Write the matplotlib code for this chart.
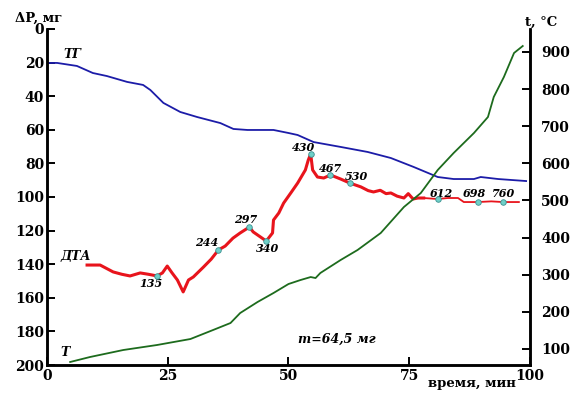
import matplotlib
matplotlib.use("Agg")
import matplotlib.pyplot as plt
import numpy as np

# --- data ---
# TG curve (mass loss, mg) vs time (min)
tg_time = [0.0, 2.1, 6.2, 9.5, 12.4, 16.6, 19.9, 21.4, 24.1, 27.6, 31.1, 35.9, 38.6,
           41.5, 46.9, 50.0, 51.9, 55.2, 60.8, 66.4, 71.2, 75.9, 80.9, 84.2, 88.4,
           89.8, 93.4, 99.2]
tg_mass = [20.2, 20.2, 22.0, 26.2, 28.0, 31.5, 33.3, 36.3, 44.0, 49.4, 52.4, 56.0, 59.5,
           60.1, 60.1, 61.9, 63.1, 67.3, 70.2, 73.2, 76.8, 82.1, 88.1, 89.3, 89.3,
           88.1, 89.3, 90.5]

# DTA curve (drawn on the mass scale)
dta_time = [8.3, 11.0, 13.7, 15.5, 17.2, 19.3, 21.0, 22.8, 23.9, 24.9, 25.9, 27.0, 28.2,
            29.3, 30.3, 32.4, 34.0, 35.5, 36.9, 38.5, 40.0, 41.9, 42.7, 44.2, 45.4,
            46.7, 46.9, 48.0, 49.0, 50.5, 51.9, 53.5, 54.1, 54.6, 55.0, 56.0, 57.3,
            58.7, 60.8, 62.7, 65.0, 66.5, 67.6, 69.0, 70.2, 71.2, 72.5, 73.9, 74.8,
            75.8, 76.8, 78.0]
dta_val = [140.5, 140.5, 144.6, 146.0, 147.0, 145.2, 146.0, 147.0, 145.2, 141.1, 145.2,
           149.4, 156.5, 149.4, 147.6, 141.7, 137.0, 131.5, 129.2, 124.5, 121.4, 117.9,
           120.8, 123.8, 126.2, 121.4, 113.7, 109.5, 103.6, 97.5, 91.7, 83.9, 78.0,
           74.4, 83.9, 88.1, 88.7, 86.9, 89.3, 91.7, 94.0, 96.2, 97.0, 96.0, 98.0,
           97.6, 99.5, 100.6, 98.0, 101.2, 100.6, 100.6]
dta_time_tail = [78.0, 80.9, 83.0, 85.1, 86.3, 89.2, 92.0, 94.4, 97.7]
dta_val_tail = [100.6, 101.2, 100.6, 100.6, 103.0, 103.0, 102.6, 103.0, 103.0]

# marked DTA points (temperature labels, degC)
mark_time = [22.8, 35.5, 41.9, 45.4, 54.6, 58.7, 62.7, 80.9, 89.2, 94.4]
mark_val = [147.0, 131.5, 117.9, 126.2, 74.4, 86.9, 91.7, 101.2, 103.0, 103.0]
mark_text = ["135", "244", "297", "340", "430", "467", "530", "612", "698", "760"]
mark_offset = [(-6, -8), (-12, 7), (-4, 8), (1, -7), (-7, 6), (0, 6), (7, 7),
               (4, 6), (-3, 9), (1, 9)]

# T curve (temperature, degC) vs time
t_time = [4.8, 8.9, 15.8, 22.8, 29.7, 34.4, 38.0, 40.0, 43.6, 46.9, 50.0, 52.5, 54.6,
          55.6, 56.6, 60.8, 64.3, 69.1, 73.9, 77.4, 80.9, 84.2, 88.4, 91.3, 92.5,
          94.6, 96.7, 98.5]
t_temp = [64.8, 78.2, 97.1, 110.6, 126.7, 151.0, 169.8, 196.7, 226.4, 250.6, 274.8,
          285.6, 293.6, 290.9, 304.5, 339.5, 366.4, 412.2, 482.2, 519.9, 581.9, 627.7,
          681.5, 724.6, 778.5, 832.4, 897.0, 915.8]

left_ticks = [0, 20, 40, 60, 80, 100, 120, 140, 160, 180, 200]
right_ticks = [100, 200, 300, 400, 500, 600, 700, 800, 900]
x_ticks = [0, 25, 50, 75, 100]

# --- figure ---
plt.rcParams["font.family"] = "DejaVu Serif"
fig = plt.figure(figsize=(5.75, 3.94), dpi=100)
ax = fig.add_axes([0.0817, 0.0736, 0.840, 0.8528])
ax2 = ax.twinx()

ax.plot(tg_time, tg_mass, color="#1c1ca8", lw=1.3)
ax.plot(dta_time, dta_val, color="#e8141c", lw=2.2)
ax.plot(dta_time_tail, dta_val_tail, color="#e8141c", lw=1.3)
ax.scatter(mark_time, mark_val, s=16, color="#6fd0c8", edgecolors="#3a9090",
           linewidths=0.6, zorder=5)
for tx, ty, s, off in zip(mark_time, mark_val, mark_text, mark_offset):
    ax.annotate(s, (tx, ty), xytext=off, textcoords="offset pixels",
                ha="center", va="center", fontsize=8, fontstyle="italic",
                fontweight="bold")

ax2.plot(t_time, t_temp, color="#1d6b1d", lw=1.3)

ax.set_xlim(0, 100)
ax.set_ylim(200, 0)
ax2.set_ylim(56.7, 961.6)
ax.set_xticks(x_ticks)
ax.set_yticks(left_ticks)
ax2.set_yticks(right_ticks)

for a in (ax, ax2):
    a.spines["top"].set_visible(False)
    for sp in ("left", "right", "bottom"):
        a.spines[sp].set_linewidth(1.8)
    a.tick_params(direction="in", length=6, width=1.4, labelsize=10)
    for lab in a.get_xticklabels() + a.get_yticklabels():
        lab.set_fontweight("bold")
ax.tick_params(axis="y", pad=2)
ax.tick_params(axis="x", pad=3)
ax2.tick_params(axis="y", pad=8)

# axis titles and curve labels
fig.text(39 / 575, 1 - 18 / 394, "ΔP, мг", fontsize=9.5, fontweight="bold",
         ha="center", va="center")
fig.text(541 / 575, 1 - 22 / 394, "t, °C", fontsize=9.5, fontweight="bold",
         ha="center", va="center")
fig.text(472 / 575, 1 - 383 / 394, "время, мин", fontsize=9.5, fontweight="bold",
         ha="center", va="center")
fig.text(72 / 575, 1 - 55 / 394, "ТГ", fontsize=9, fontweight="bold",
         fontstyle="italic", ha="center", va="center")
fig.text(76 / 575, 1 - 257 / 394, "ДТА", fontsize=9, fontweight="bold",
         fontstyle="italic", ha="center", va="center")
fig.text(65 / 575, 1 - 353 / 394, "Т", fontsize=9, fontweight="bold",
         fontstyle="italic", ha="center", va="center")
fig.text(337 / 575, 1 - 339 / 394, "m=64,5 мг", fontsize=9, fontweight="bold",
         fontstyle="italic", ha="center", va="center")

fig.savefig("out.png", dpi=100)
